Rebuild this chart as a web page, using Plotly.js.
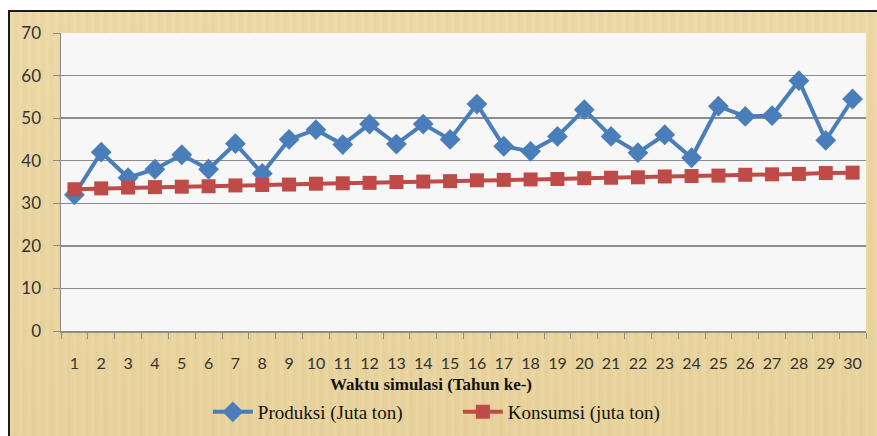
<!DOCTYPE html>
<html>
<head>
<meta charset="utf-8">
<script src="https://cdn.plot.ly/plotly-3.0.1.min.js"></script>
<style>
html,body{margin:0;padding:0;background:#ffffff;}
#wrap{position:relative;width:877px;height:436px;overflow:hidden;background:#ffffff;}
#parch{position:absolute;left:8px;top:10px;width:880px;height:440px;border-left:2px solid #1a1a1a;border-top:2px solid #1a1a1a;
background:#ebd6a0;
background-image:
repeating-linear-gradient(90deg, rgba(255,255,255,0.05) 0px, rgba(255,255,255,0.05) 3px, rgba(120,90,30,0.03) 4px, rgba(0,0,0,0) 9px),
linear-gradient(180deg, rgba(255,255,255,0.06), rgba(160,120,40,0.04));}
#chart{position:absolute;left:0;top:0;width:877px;height:436px;}
</style>
</head>
<body>
<div id="wrap"><div id="parch"></div><div id="chart"></div></div>
<script>
const years = ["1","2","3","4","5","6","7","8","9","10","11","12","13","14","15","16","17","18","19","20","21","22","23","24","25","26","27","28","29","30"];
const produksi = [32, 42, 36, 38, 41.4, 38, 44, 37, 45, 47.3, 43.8, 48.6, 43.9, 48.6, 45, 53.3, 43.4, 42.2, 45.7, 52, 45.7, 41.9, 46.1, 40.7, 52.8, 50.4, 50.6, 58.8, 44.8, 54.5];
const konsumsi = [33.3, 33.5, 33.7, 33.8, 33.9, 34.0, 34.2, 34.3, 34.4, 34.6, 34.7, 34.8, 35.0, 35.1, 35.2, 35.4, 35.5, 35.6, 35.7, 35.9, 36.0, 36.1, 36.3, 36.4, 36.5, 36.7, 36.8, 36.9, 37.1, 37.2];
const seriesNames = ["Produksi (Juta ton)", "Konsumsi (juta ton)"];
const yTicks = [0,10,20,30,40,50,60,70];
const xTitle = "Waktu simulasi (Tahun ke-)";

const traces = [
  {x: years, y: produksi, name: seriesNames[0], type: 'scatter', mode: 'lines+markers',
   line: {color: '#4a7ebb', width: 4}, marker: {symbol: 'diamond', size: 16, color: '#4a7ebb'}},
  {x: years, y: konsumsi, name: seriesNames[1], type: 'scatter', mode: 'lines+markers',
   line: {color: '#be4b48', width: 4}, marker: {symbol: 'square', size: 14, color: '#be4b48'}}
];

const layout = {
  width: 877, height: 436,
  margin: {l: 61, r: 11, t: 33, b: 105},
  paper_bgcolor: 'rgba(0,0,0,0)',
  plot_bgcolor: '#f7f7f7',
  showlegend: true,
  xaxis: {
    type: 'category', range: [-0.5, 29.5], autorange: false, automargin: false,
    showgrid: false, zeroline: false,
    showline: true, linecolor: '#8c8c8c', linewidth: 1.5,
    ticks: 'outside', tickson: 'boundaries', ticklen: 6, tickcolor: '#8c8c8c',
    tickangle: 0, ticklabelstandoff: 17,
    tickfont: {family: 'Lato, "Open Sans", sans-serif', size: 16, color: '#333333'}
  },
  yaxis: {
    range: [0, 70], autorange: false, automargin: false, tickvals: yTicks, ticktext: yTicks.map(String),
    showgrid: true, gridcolor: '#8c8c8c', gridwidth: 1.5, zeroline: false,
    showline: true, linecolor: '#8c8c8c', linewidth: 1.5,
    ticks: 'outside', ticklen: 7, tickcolor: '#8c8c8c',
    ticklabelstandoff: 8,
    tickfont: {family: 'Lato, "Open Sans", sans-serif', size: 17, color: '#333333'}
  },
  legend: {
    orientation: 'h', xref: 'container', yref: 'container',
    x: 0.237, xanchor: 'left', y: 0.055, yanchor: 'middle',
    bgcolor: 'rgba(0,0,0,0)', font: {family: '"Liberation Serif", serif', size: 19, color: '#111111'},
    entrywidth: 195, itemwidth: 40, tracegroupgap: 0
  },
  annotations: [{
    text: '<b>' + xTitle + '</b>', xref: 'paper', yref: 'paper',
    x: 0.46, y: -0.178, xanchor: 'center', yanchor: 'middle', showarrow: false,
    font: {family: '"Liberation Serif", serif', size: 17, color: '#111111'}
  }]
};

Plotly.newPlot('chart', traces, layout, {displayModeBar: false, staticPlot: true});
</script>
</body>
</html>
